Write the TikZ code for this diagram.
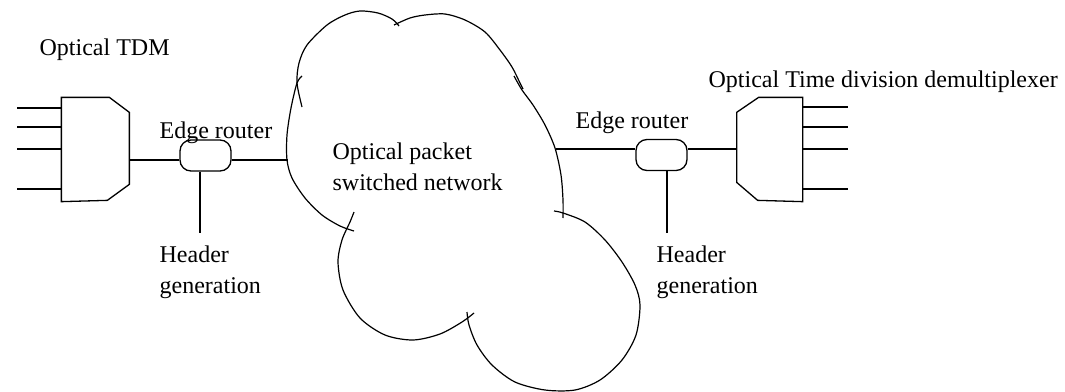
\documentclass[tikz,border=0pt]{standalone}
\usepackage{fontspec}
\setmainfont{Liberation Serif}
\begin{document}
\begin{tikzpicture}[x=1pt,y=-1pt,line width=1.3pt,
  lbl/.style={inner sep=0pt,font=\fontsize{24}{31}\selectfont,align=left},
  router/.style={draw,rounded corners=11pt,minimum width=51pt,minimum height=31pt,inner sep=0pt},
  mbox/.style={minimum width=68pt,minimum height=103pt,inner sep=0pt},
  cloudline/.style={line width=1.2pt}]
\useasboundingbox (0,0) rectangle (1065,391);

% left multiplexer
\node[mbox] (mux) at (96,149.5) {};
\draw (mux.north west) -- ++(48,0) -- ++(20,15) -- ++(0,72) -- ++(-22,16) -- (mux.south west) -- cycle;
\foreach \y/\n in {108/a,127/b,149/c,189/d}{
  \coordinate (in\n) at (17,\y);
  \draw (in\n) -- (in\n -| mux.west);
}

% right demultiplexer
\node[mbox, minimum width=66pt] (dmx) at (769,149.5) {};
\draw (dmx.north east) -- ++(-44,0) -- ++(-22,15) -- ++(0,70) -- ++(21,18) -- (dmx.south east) -- cycle;
\foreach \y/\n in {107/a,127/b,149/c,189/d}{
  \coordinate (out\n) at (848,\y);
  \draw (out\n -| dmx.east) -- (out\n);
}

% routers
\node[router] (rt1) at (205.5,155.5) {};
\node[router] (rt2) at (661.5,155) {};

% connections
\coordinate (m1) at (130,160);
\draw (m1) -- (m1 -| rt1.west);
\coordinate (c1) at (288,160);
\draw (c1 -| rt1.east) -- (c1);
\coordinate (c2) at (556,149);
\draw (c2) -- (c2 -| rt2.west);
\coordinate (m2) at (736,149);
\draw (m2 -| rt2.east) -- (m2);
\coordinate (h1) at (200,233);
\draw (h1 |- rt1.south) -- (h1);
\coordinate (h2) at (667,233);
\draw (h2 |- rt2.south) -- (h2);

% cloud lobes
\draw[cloudline] plot[smooth] coordinates {(302,107) (297,83) (299,63) (307,45) (327,25) (345,15) (360,11) (378,13) (392,19) (399,26)};
\draw[cloudline] plot[smooth] coordinates {(394,25) (410,18) (425,15) (445,14) (465,20) (485,32) (500,50) (512,67) (520,83) (523,89)};
\draw[cloudline] plot[smooth] coordinates {(514,76) (522,90) (533,105) (545,125) (555,148) (561,175) (563,200) (563,218)};
\draw[cloudline] plot[smooth] coordinates {(554,211) (563,213) (585,222) (605,240) (622,262) (635,285) (640,305) (636,335) (622,360) (600,380) (575,390) (545,390) (515,382) (492,365) (477,345) (469,325) (467,312)};
\draw[cloudline] plot[smooth] coordinates {(474,313) (462,322) (440,334) (413,340) (385,335) (360,318) (343,290) (338,262) (342,240) (350,222) (354,212)};
\draw[cloudline] plot[smooth] coordinates {(354,231) (340,226) (322,215) (305,198) (292,178) (287,160) (287,135) (291,108) (297,83) (302,76)};

% labels
\node[lbl,anchor=base west] (tdm) at (39,55) {Optical TDM};
\node[lbl,anchor=base west] (er1) at (159,138) {Edge router};
\node[lbl,anchor=base west] (hg1) at (159,293) {Header\\generation};
\node[lbl,anchor=base west] (net) at (332,190) {Optical packet\\switched network};
\node[lbl,anchor=base west] (er2) at (575,128) {Edge router};
\node[lbl,anchor=base west] (hg2) at (656,293) {Header\\generation};
\node[lbl,anchor=base west] (dmt) at (708,87) {Optical Time division demultiplexer};
\end{tikzpicture}
\end{document}
